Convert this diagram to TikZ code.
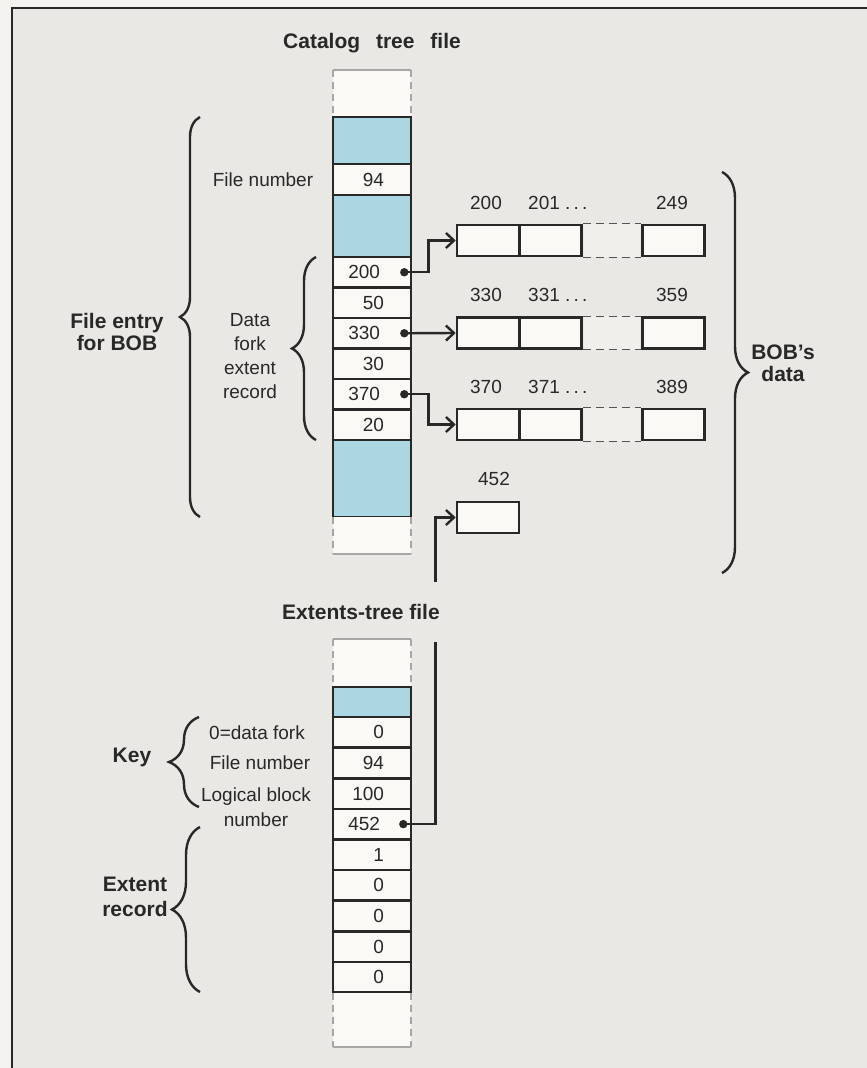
\documentclass[tikz,border=0pt]{standalone}
\usepackage{fontspec}
\setmainfont{Liberation Sans}
\usetikzlibrary{arrows.meta,decorations.pathreplacing}

\definecolor{paper}{RGB}{245,243,239}
\definecolor{bgcol}{RGB}{234,232,228}
\definecolor{ink}{RGB}{40,40,40}
\definecolor{cellcol}{RGB}{250,249,246}
\definecolor{fillblue}{RGB}{170,215,226}

\newcommand\numfont{\fontsize{19}{24}\selectfont}
\newcommand\ttlfont{\fontsize{21}{22}\selectfont\bfseries}

\begin{document}
\begin{tikzpicture}[x=1pt,y=-1pt,
  cell/.style={draw=ink,line width=2.6pt,fill=cellcol,minimum width=78pt,minimum height=30.5pt,inner sep=0pt,font=\numfont,text=ink},
  blk/.style={draw=ink,line width=2.6pt,fill=cellcol,minimum width=62pt,minimum height=31pt,inner sep=0pt},
  txt/.style={font=\numfont,text=ink,align=center,inner sep=1pt},
  ttl/.style={font=\ttlfont,text=ink,align=center,inner sep=1pt},
  ptr/.style={draw=ink,line width=2.4pt,-{Straight Barb[length=8pt,width=15pt]}},
  brc/.style={draw=ink,line width=2.4pt,decorate},
  endln/.style={draw=gray!70,line width=1.2pt},
  enddash/.style={draw=gray!70,line width=1.2pt,dash pattern=on 7pt off 5pt},
  dashln/.style={draw=ink!80,line width=1.3pt,dash pattern=on 8pt off 5pt}]

	\useasboundingbox (0,0) rectangle (867,1068);
	\fill[paper] (0,0) rectangle (867,1068);
	\fill[bgcol] (12,8) rectangle (867,1068);
	\draw[ink,line width=1.6pt] (12,1068) -- (12,8) -- (867,8);

	% catalog tree file
	\node[ttl] (cattl) at (372,43) {Catalog\hspace{10pt} tree\hspace{10pt} file};
	\fill[cellcol] (333,70) rectangle (411,117);
	\draw[endln] (333,70) -- (411,70);
	\draw[enddash] (333,70) -- (333,117) (411,70) -- (411,117);
	\node[cell,fill=fillblue,minimum height=47pt] (cb1) at (372,140.5) {};
	\node[cell,minimum height=31pt] (c94) at (372,179.5) {\makebox[24pt][r]{94}};
	\node[cell,fill=fillblue,minimum height=62pt] (cb2) at (372,226) {};
	\foreach \v/\w [count=\i] in {200/16,50/24,330/16,30/24,370/16,20/24}
		\node[cell] (cat\i) at (372,{241.75+30.5*\i}) {\makebox[\w pt][r]{\v}};
	\node[cell,fill=fillblue,minimum height=77pt] (cb3) at (372,478.5) {};
	\fill[cellcol] (333,517) rectangle (411,554);
	\draw[endln] (333,554) -- (411,554);
	\draw[enddash] (333,517) -- (333,554) (411,517) -- (411,554);

	\node[txt] (lfn) at (263,179.5) {File number};

	% BOB's data blocks
	\foreach \r/\y/\a/\b/\c in {1/240.5/200/201/249,2/333/330/331/359,3/424.5/370/371/389}{
		\node[blk] (d\r a) at (488,\y) {};
		\node[blk] (d\r b) at (550.5,\y) {};
		\node[blk] (d\r c) at (673.5,\y) {};
		\fill[cellcol!40!bgcol] ([xshift=1.3pt]d\r b.north east) rectangle ([xshift=-1.3pt]d\r c.south west);
		\draw[dashln] (d\r b.north east) -- (d\r c.north west) (d\r b.south east) -- (d\r c.south west);
		\node[txt] (n\r a) at (486,\y-38) {\a};
		\node[txt,anchor=west] (n\r b) at (527,\y-38) {\b\ .\,.\,.};
		\node[txt] (n\r c) at (672,\y-38) {\c};
	}
	\node[blk] (b452) at (488,517.5) {};
	\node[txt] (n452) at (494,479) {452};

	\foreach \i in {1,3,5}
		\coordinate (p\i) at ([xshift=-8pt]cat\i.east);
	\draw[ptr] (p1) -- ++(24,0) |- (d1a.west);
	\draw[ptr] (p3) -- (d2a.west);
	\draw[ptr] (p5) -- ++(24,0) |- (d3a.west);
	\foreach \i in {1,3,5}
		\fill[ink] (p\i) circle (4.2);

	% extents tree file
	\node[cell,fill=fillblue,minimum height=30pt] (eb1) at (372,702) {};
	\foreach \v/\w [count=\i] in {0/24,94/24,100/24,452/16,1/24,0/24,0/24,0/24,0/24}
		\node[cell,minimum height=30.6pt] (ext\i) at (372,{701.7+30.6*\i}) {\makebox[\w pt][r]{\v}};
	\coordinate (p452) at ([xshift=-9pt]ext4.east);
	\draw[ptr] (p452) -- ++(32,0) |- (b452.west);
	\fill[ink] (p452) circle (4.2);
	\node[ttl,fill=bgcol,inner xsep=4pt,inner ysep=22pt] (exttl) at (361,612) {Extents-tree file};
	\fill[cellcol] (333,639) rectangle (411,686);
	\draw[endln] (333,639) -- (411,639);
	\draw[enddash] (333,639) -- (333,686) (411,639) -- (411,686);
	\fill[cellcol] (333,993) rectangle (411,1047);
	\draw[endln] (333,1047) -- (411,1047);
	\draw[enddash] (333,993) -- (333,1047) (411,993) -- (411,1047);

	\node[txt] (lkey1) at (257,733) {0=data fork};
	\node[txt] (lkey2) at (260,763) {File number};
	\node[txt] (lkey3) at (256,807) {Logical block\\[1pt]number};

	% braces
	\draw[brc,decoration={brace,amplitude=20pt}] (200,517) -- (200,117);
	\node[ttl] (lentry) at (117,332) {File entry\\for BOB};
	\draw[brc,decoration={brace,amplitude=24pt}] (316,440) -- (316,257);
	\node[txt] (lfork) at (250,356) {Data\\fork\\extent\\record};
	\draw[brc,decoration={brace,amplitude=26pt}] (722,172) -- (722,573);
	\node[ttl] (lbob) at (783,363) {BOB's\\data};
	\draw[brc,decoration={brace,amplitude=30pt}] (199,807) -- (199,717);
	\node[ttl] (lkey) at (132,757) {Key};
	\draw[brc,decoration={brace,amplitude=28pt}] (200,992) -- (200,827);
	\node[ttl] (lrec) at (135,897) {Extent\\[3pt]record};

\end{tikzpicture}
\end{document}
